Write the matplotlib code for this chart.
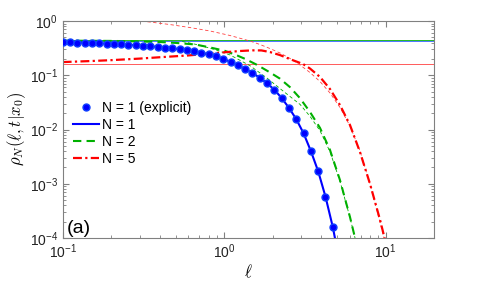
import matplotlib
matplotlib.use("Agg")
import matplotlib.pyplot as plt
from matplotlib.ticker import LogLocator, NullFormatter

plt.rcParams['font.family'] = ['Liberation Sans', 'DejaVu Sans']
plt.rcParams['mathtext.fontset'] = 'cm'

# N = 1, explicit formula (dots) and curve
ell_n1 = [0.100, 0.111, 0.123, 0.137, 0.152, 0.168, 0.187, 0.207, 0.230, 0.255,
          0.283, 0.314, 0.349, 0.387, 0.430, 0.477, 0.529, 0.587, 0.651, 0.723,
          0.802, 0.890, 0.987, 1.096, 1.216, 1.349, 1.497, 1.661, 1.844, 2.046,
          2.270, 2.519, 2.795, 3.102, 3.442, 3.819, 4.238, 4.703]
rho_n1 = [0.405, 0.403, 0.400, 0.397, 0.393, 0.389, 0.384, 0.378, 0.372, 0.365,
          0.358, 0.350, 0.342, 0.333, 0.323, 0.313, 0.302, 0.290, 0.276, 0.260,
          0.243, 0.223, 0.200, 0.176, 0.152, 0.130, 0.110, 0.090, 0.071, 0.054,
          0.038, 0.025, 0.0155, 0.0085, 0.0040, 0.0017, 0.00058, 0.00016]
ell_n1_tail = [4.85, 5.0]
rho_n1_tail = [0.0001, 0.00006]

# N = 2
ell_n2 = [0.1, 0.2, 0.3, 0.4, 0.5, 0.66, 0.8, 1.0, 1.17, 1.35, 1.6, 1.9, 2.21,
          2.55, 2.94, 3.40, 3.92, 4.52, 5.21, 6.01, 6.46, 6.73]
rho_n2 = [0.435, 0.43, 0.42, 0.41, 0.395, 0.37, 0.33, 0.285, 0.24, 0.20, 0.155,
          0.115, 0.087, 0.0607, 0.0381, 0.0210, 0.0107, 0.0042, 0.00117,
          0.000244, 0.0001, 0.000057]

# N = 5
ell_n5 = [0.1, 0.15, 0.2, 0.3, 0.4, 0.6, 0.8, 1.0, 1.25, 1.5, 1.7, 1.92, 2.22,
          2.56, 3.08, 3.40, 3.92, 4.52, 5.21, 6.01, 6.93, 8.0, 9.23, 9.91]
rho_n5 = [0.175, 0.183, 0.19, 0.203, 0.215, 0.232, 0.25, 0.265, 0.28, 0.288,
          0.287, 0.268, 0.235, 0.198, 0.161, 0.133, 0.093, 0.0558, 0.0283,
          0.0121, 0.00385, 0.00099, 0.000215, 0.000092]

# large-ell asymptotes (thin dashed)
ell_n2_big = [0.55, 0.7, 0.9, 1.09, 1.445, 1.83, 2.32, 2.95, 3.4, 3.92, 4.52,
              5.21, 6.01, 6.46, 6.73]
rho_n2_big = [0.42, 0.36, 0.29, 0.236, 0.15, 0.09, 0.051, 0.029, 0.0175, 0.0095,
              0.0039, 0.00112, 0.000238, 0.0001, 0.000057]
ell_n5_big = [0.261, 0.347, 0.462, 0.614, 0.817, 1.086, 1.445, 1.667, 1.921,
              2.218, 2.557, 2.946, 3.398, 3.920, 4.521, 5.214, 6.013, 6.935,
              7.998, 9.22, 9.91]
rho_n5_big = [1.043, 0.959, 0.861, 0.758, 0.655, 0.541, 0.428, 0.369, 0.311,
              0.257, 0.204, 0.155, 0.1125, 0.0767, 0.0471, 0.0255, 0.0116,
              0.00402, 0.00099, 0.000197, 0.0000844]

# small-ell asymptotes (thin horizontal)
small_n1 = 0.433
small_n2 = 0.45
small_n5 = 0.161

fig = plt.figure(figsize=(4.8, 2.88), dpi=100)
ax = fig.add_axes([0.1306, 0.1736, 0.7742, 0.7534])

ax.axhline(small_n2, color='#00b000', lw=0.6)
ax.axhline(small_n1, color='#3060ff', lw=0.6)
ax.axhline(small_n5, color='#ff4040', lw=0.6)

ax.plot(ell_n2_big, rho_n2_big, color='#00b000', lw=0.6, ls=(0, (4, 3)))
ax.plot(ell_n5_big, rho_n5_big, color='#ff4040', lw=0.6, ls=(0, (4, 3)))

ax.plot(ell_n1, rho_n1, 'o', color='#0000ff', ms=5, mec='#1040ff',
        label='N = 1 (explicit)', zorder=5)
ax.plot(ell_n1 + ell_n1_tail, rho_n1 + rho_n1_tail, '-', color='#0000ff',
        lw=1.5, label='N = 1', zorder=4)
ax.plot(ell_n2, rho_n2, color='#00b000', lw=1.5, ls=(0, (4, 2.5)), label='N = 2')
ax.plot(ell_n5, rho_n5, color='#ff0000', lw=1.6, ls=(0, (4, 1.5, 1, 1.5)),
        label='N = 5')

ax.set_xscale('log')
ax.set_yscale('log')
ax.set_xlim(0.1, 20)
ax.set_ylim(1e-4, 1)

gray = '#808080'
for s in ax.spines.values():
    s.set_color(gray)
    s.set_linewidth(0.8)
ax.tick_params(which='both', direction='in', top=True, right=True, colors=gray,
               labelcolor='#222222', labelsize=10)
ax.tick_params(which='major', length=4)
ax.tick_params(which='minor', length=2)
ax.yaxis.set_minor_locator(LogLocator(base=10, subs=range(2, 10), numticks=20))
ax.yaxis.set_minor_formatter(NullFormatter())
ax.xaxis.set_minor_formatter(NullFormatter())

ax.set_xlabel(r'$\ell$', fontsize=12, labelpad=1)
ax.set_ylabel(r'$\rho_N(\ell,t|x_0)$', fontsize=12, labelpad=1)

ax.legend(loc='upper left', bbox_to_anchor=(0.028, 0.632), frameon=False,
          fontsize=10, handlelength=1.9, handletextpad=0.15, labelspacing=0.22,
          borderaxespad=0, borderpad=0)
ax.text(0.012, 0.025, '(a)', transform=ax.transAxes, fontsize=14)

fig.savefig('out.png', dpi=100)
